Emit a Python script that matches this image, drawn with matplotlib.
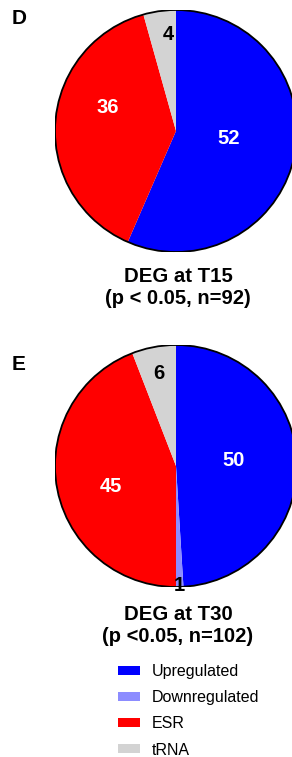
import matplotlib
matplotlib.use("Agg")
import matplotlib.pyplot as plt
import numpy as np
from matplotlib.patches import Circle, Patch

plt.rcParams['font.family'] = ['Liberation Sans', 'DejaVu Sans']

categories = ["Upregulated", "Downregulated", "ESR", "tRNA"]
t15_values = [52, 0, 36, 4]
t30_values = [50, 1, 45, 6]
t15_title = ["DEG at T15", "(p < 0.05, n=92)"]
t30_title = ["DEG at T30", "(p <0.05, n=102)"]
panel_letters = ["D", "E"]

colors = ["#0000FF", "#8C8CFF", "#FF0000", "#D3D3D3"]
label_colors = ["white", "black", "white", "black"]

W, H = 292, 757
fig = plt.figure(figsize=(W / 100, H / 100), dpi=100)


def px_axes(cx, cy, r):
    return fig.add_axes([(cx - r) / W, 1 - (cy + r) / H, 2 * r / W, 2 * r / H])


# per-wedge label placement (radius fraction, angle offset in deg)
t15_label_style = [(0.44, 4), (0.98, 0), (0.60, -15), (0.80, -3)]
t30_label_style = [(0.48, 4), (0.99, 0), (0.56, 7), (0.78, 0)]


def draw_pie(ax, values, style):
    wedges, _ = ax.pie(values, colors=colors, startangle=90, counterclock=False,
                       radius=1.0, wedgeprops=dict(linewidth=0), frame=False)
    ax.add_patch(Circle((0, 0), 1.0, fill=False, edgecolor="black", linewidth=1.3))
    for w, v, (rf, da), tc in zip(wedges, values, style, label_colors):
        if v == 0:
            continue
        mid = np.deg2rad((w.theta1 + w.theta2) / 2 + da)
        ax.text(rf * np.cos(mid), rf * np.sin(mid), str(v), ha="center", va="center",
                color=tc, fontsize=14.5, fontweight="bold")
    ax.set_xlim(-1, 1)
    ax.set_ylim(-1, 1)
    ax.set_aspect("equal")
    ax.axis("off")
    return wedges


ax1 = px_axes(176, 131, 121)
draw_pie(ax1, t15_values, t15_label_style)
ax2 = px_axes(176, 466, 121)
draw_pie(ax2, t30_values, t30_label_style)


def ftext(x, y, s, **kw):
    fig.text(x / W, 1 - y / H, s, **kw)


ftext(12, 19, panel_letters[0], fontsize=15, fontweight="bold", va="center", ha="left")
ftext(12, 365, panel_letters[1], fontsize=15, fontweight="bold", va="center", ha="left")

ftext(178, 276, t15_title[0], fontsize=14.7, fontweight="bold", ha="center", va="center")
ftext(178, 299, t15_title[1], fontsize=14.5, fontweight="bold", ha="center", va="center")
ftext(178, 614, t30_title[0], fontsize=14.7, fontweight="bold", ha="center", va="center")
ftext(178, 636, t30_title[1], fontsize=14.5, fontweight="bold", ha="center", va="center")

handles = [Patch(facecolor=c, edgecolor="none") for c in colors]
fig.legend(handles, categories, loc="upper left", bbox_to_anchor=(118 / W, 1 - 664 / H),
           frameon=False, fontsize=11.5, handlelength=1.375, handleheight=0.5,
           handletextpad=0.75, labelspacing=0.7, borderpad=0, borderaxespad=0)

fig.savefig("out.png", dpi=100)
